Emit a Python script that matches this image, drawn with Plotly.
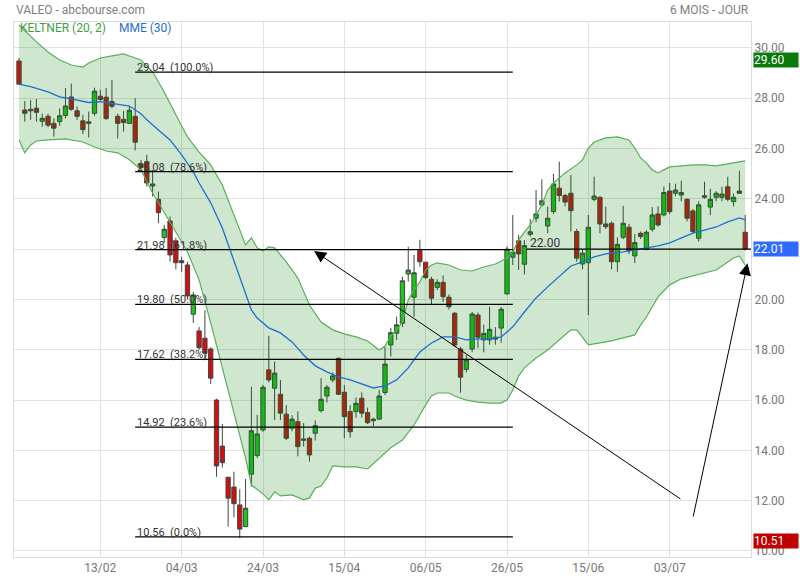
import plotly.graph_objects as go

# ---------------- data ----------------
tick_idx = [14, 28, 42, 56, 70, 84, 98, 112]
tick_labels = ["13/02", "04/03", "24/03", "15/04", "06/05", "26/05", "15/06", "03/07"]

opens = [29.48, 27.53, 27.56, 27.60, 27.08, 27.28, 27.00, 27.07, 27.31, 28.05,
         27.50, 27.10, 27.00, 27.40, 28.08, 28.04, 27.87, 27.28, 27.16, 27.00,
         27.28, 25.39, 25.48, 24.51, 23.98, 22.46, 23.12, 22.33, 21.54, 21.37,
         19.41, 18.75, 18.46, 18.03, 16.00, 14.17, 12.93, 12.54, 11.83, 10.97,
         13.05, 13.79, 14.81, 17.20, 16.47, 16.23, 15.44, 14.88, 15.14, 14.40,
         14.48, 14.68, 15.58, 16.16, 16.80, 17.66, 16.31, 15.54, 15.54, 16.07,
         15.50, 15.24, 15.24, 16.30, 18.19, 18.66, 19.05, 21.01, 20.09, 21.94,
         21.48, 20.80, 20.48, 20.68, 20.09, 19.45, 18.03, 17.22, 18.03, 19.38,
         18.39, 18.39, 18.42, 18.86, 20.22, 21.68, 22.33, 21.40, 22.59, 23.23,
         23.76, 22.92, 23.49, 24.42, 24.13, 24.22, 22.70, 21.41, 21.46, 23.98,
         24.06, 23.00, 23.03, 21.50, 22.47, 22.87, 21.73, 22.63, 22.00, 22.79,
         23.40, 23.36, 24.31, 24.22, 24.15, 23.98, 23.52, 22.43, 24.06, 23.67,
         24.06, 24.06, 24.48, 23.89, 24.31, 22.67]
highs = [29.60, 27.89, 27.93, 27.97, 27.38, 27.38, 27.20, 27.60, 28.40, 28.58,
         27.67, 27.34, 27.47, 28.42, 28.33, 28.40, 28.73, 27.38, 27.50, 27.67,
         28.00, 25.55, 25.75, 25.15, 24.29, 22.96, 23.30, 22.45, 21.70, 21.50,
         20.30, 18.90, 19.57, 18.10, 16.05, 15.05, 12.95, 13.15, 12.45, 12.86,
         16.53, 15.41, 16.60, 18.56, 17.53, 16.80, 15.80, 15.40, 15.55, 15.09,
         14.55, 15.19, 16.87, 16.60, 17.10, 17.69, 16.60, 15.80, 16.10, 16.30,
         15.70, 15.30, 16.40, 18.12, 18.87, 19.32, 20.90, 22.10, 21.77, 22.37,
         21.50, 20.90, 20.80, 20.95, 20.20, 19.50, 18.12, 17.80, 19.50, 19.48,
         19.00, 19.71, 18.90, 19.70, 22.10, 23.36, 22.57, 22.36, 23.19, 24.35,
         24.78, 23.69, 24.99, 25.48, 24.20, 24.95, 22.80, 22.00, 23.36, 24.88,
         24.10, 23.69, 23.10, 22.47, 23.72, 23.00, 22.60, 22.70, 22.75, 23.67,
         23.70, 24.49, 24.63, 24.60, 24.72, 24.02, 23.60, 23.90, 24.68, 24.40,
         24.30, 24.48, 24.88, 24.20, 25.12, 23.36]
lows = [28.55, 27.07, 27.14, 27.07, 26.87, 26.85, 26.47, 26.90, 27.19, 27.50,
        27.14, 26.57, 26.44, 27.30, 27.85, 27.14, 27.60, 26.40, 26.67, 26.98,
        25.92, 25.10, 24.49, 24.09, 23.03, 22.26, 21.50, 21.20, 21.10, 20.00,
        19.07, 18.00, 17.60, 16.64, 12.95, 13.31, 10.97, 11.34, 10.51, 10.95,
        12.56, 13.70, 14.74, 16.70, 15.21, 15.20, 14.41, 14.76, 13.76, 14.15,
        13.55, 14.39, 15.50, 15.90, 16.70, 16.20, 14.48, 14.50, 15.30, 15.30,
        15.05, 14.95, 15.24, 16.20, 17.73, 18.39, 18.90, 20.71, 19.32, 21.30,
        20.80, 19.78, 20.37, 19.90, 19.60, 18.10, 16.29, 17.10, 17.90, 18.07,
        17.90, 18.20, 18.20, 18.28, 20.20, 21.37, 21.17, 20.99, 22.50, 23.07,
        23.70, 22.63, 23.40, 23.89, 23.70, 22.70, 21.50, 21.20, 19.38, 23.90,
        22.63, 22.80, 21.20, 21.10, 22.40, 21.80, 21.45, 22.40, 21.95, 22.70,
        22.90, 23.30, 23.40, 24.10, 23.90, 23.10, 22.60, 22.30, 24.00, 23.35,
        23.90, 23.90, 23.90, 23.70, 24.20, 21.95]
closes = [28.56, 27.40, 27.50, 27.44, 27.20, 26.93, 26.81, 27.30, 27.69, 27.56,
          27.28, 26.75, 27.06, 28.28, 27.95, 27.19, 27.68, 27.00, 27.03, 27.52,
          26.25, 25.24, 24.63, 24.59, 23.45, 22.79, 21.77, 21.46, 21.46, 20.14,
          20.18, 18.08, 17.86, 16.87, 13.38, 13.51, 12.10, 11.88, 10.87, 11.70,
          14.78, 14.65, 16.51, 16.80, 17.07, 15.48, 14.48, 15.24, 14.15, 14.45,
          13.82, 14.98, 16.03, 16.51, 16.96, 16.23, 15.34, 14.74, 15.87, 15.48,
          15.10, 15.18, 16.16, 17.43, 18.68, 18.99, 20.74, 21.17, 21.06, 21.50,
          20.87, 20.05, 20.68, 20.11, 19.71, 18.19, 16.91, 17.60, 19.42, 18.50,
          18.65, 18.81, 18.50, 19.61, 22.00, 21.88, 21.81, 22.14, 22.69, 23.40,
          23.92, 23.23, 24.59, 24.13, 23.87, 23.53, 21.64, 21.84, 22.87, 24.11,
          23.00, 22.89, 21.50, 22.19, 23.03, 21.93, 22.26, 22.50, 22.67, 23.36,
          22.96, 24.25, 23.49, 24.35, 24.25, 23.23, 22.70, 23.76, 24.12, 23.98,
          24.22, 24.19, 23.98, 24.06, 24.22, 22.01]

# Keltner (20, 2) upper / lower edges and MME (30), read at candle indices
upper_idx = [0, 2, 3, 5, 7, 9, 11, 12, 14, 16, 18, 19, 21, 23, 25, 27, 29, 31, 33, 35,
             37, 39, 40, 41, 42, 43, 44, 46, 48, 50, 52, 54, 56, 58, 60, 62, 63, 64, 65,
             66, 67, 68, 69, 70, 71, 72, 74, 76, 78, 80, 82, 84, 85, 86, 87, 88, 90, 91,
             92, 94, 96, 97, 98, 99, 101, 103, 105, 106, 107, 108, 109, 110, 111, 112,
             114, 116, 118, 120, 122, 124, 125]
upper_val = [30.91, 30.44, 30.24, 29.84, 29.52, 29.32, 29.24, 29.40, 29.60, 29.68, 29.76,
             29.68, 29.52, 29.05, 28.25, 27.34, 26.46, 25.86, 25.35, 24.55, 23.36, 22.17,
             22.45, 22.05, 21.93, 22.09, 22.05, 21.49, 20.85, 19.78, 19.10, 18.79, 18.63,
             18.51, 18.35, 17.99, 18.15, 18.55, 18.79, 19.10, 19.98, 20.38, 20.70, 21.17,
             21.37, 21.45, 21.37, 21.17, 21.13, 21.29, 21.41, 21.65, 21.89, 22.37, 22.68,
             22.96, 23.76, 24.35, 24.63, 25.03, 25.35, 25.55, 26.02, 26.26, 26.42, 26.46,
             26.34, 26.02, 25.63, 25.43, 25.15, 25.03, 25.15, 25.27, 25.31, 25.35, 25.35,
             25.31, 25.39, 25.47, 25.51]
lower_idx = [0, 1, 2, 3, 5, 8, 11, 13, 15, 17, 19, 21, 23, 25, 27, 29, 31, 33, 35, 36,
             37, 38, 39, 40, 41, 42, 43, 44, 45, 47, 49, 50, 51, 52, 53, 54, 56, 58, 60,
             61, 62, 64, 66, 68, 70, 71, 72, 74, 75, 77, 79, 81, 83, 84, 85, 86, 87, 89,
             91, 93, 95, 96, 97, 98, 100, 102, 104, 106, 107, 108, 110, 112, 114, 116,
             118, 120, 122, 123, 124, 125]
lower_val = [26.34, 25.83, 26.14, 26.30, 26.34, 26.38, 26.26, 26.06, 25.90, 25.83, 25.55,
             25.15, 24.23, 23.48, 22.68, 21.89, 20.78, 19.07, 17.28, 16.32, 15.53, 14.61,
             13.70, 12.62, 12.43, 12.27, 12.03, 12.35, 12.19, 12.23, 12.03, 12.11, 12.50,
             12.58, 12.90, 13.38, 13.34, 13.34, 13.26, 13.46, 13.70, 14.10, 14.41, 15.01,
             15.81, 16.16, 16.28, 16.28, 16.16, 16.00, 15.92, 15.88, 15.88, 16.00, 16.40,
             16.96, 17.28, 17.67, 17.99, 18.39, 18.79, 18.79, 18.51, 18.19, 18.27, 18.35,
             18.47, 18.59, 18.99, 19.30, 20.10, 20.58, 20.82, 20.93, 21.05, 21.17, 21.49,
             21.65, 21.73, 21.37]
mme_idx = [0, 2, 5, 7, 9, 12, 14, 17, 19, 21, 22, 24, 26, 28, 30, 31, 33, 35, 36, 37,
           38, 39, 40, 41, 43, 45, 47, 49, 51, 53, 55, 57, 59, 61, 63, 65, 67, 69, 71,
           73, 75, 77, 79, 81, 83, 85, 87, 89, 91, 93, 95, 97, 99, 101, 104, 107, 110,
           112, 114, 116, 118, 120, 122, 124, 125]
mme_val = [28.56, 28.46, 28.25, 28.05, 27.97, 27.83, 27.86, 27.77, 27.69, 27.38, 27.14,
           26.74, 26.34, 25.75, 25.07, 24.63, 23.84, 22.84, 22.17, 21.57, 20.89, 20.18,
           19.58, 19.26, 18.87, 18.67, 18.31, 17.79, 17.36, 17.12, 16.92, 16.80, 16.64,
           16.48, 16.56, 16.80, 17.28, 17.91, 18.27, 18.51, 18.51, 18.39, 18.43, 18.43,
           18.51, 18.91, 19.50, 20.06, 20.50, 20.93, 21.33, 21.49, 21.69, 21.81, 21.89,
           22.01, 22.13, 22.25, 22.45, 22.64, 22.76, 22.88, 23.08, 23.24, 23.16]

# Fibonacci retracement levels
fib_levels = [29.04, 25.08, 21.98, 19.80, 17.62, 14.92, 10.56]
fib_pcts = ["100.0%", "78.6%", "61.8%", "50.0%", "38.2%", "23.6%", "0.0%"]
fib_start, fib_end = 20, 85

# horizontal line 22.00
hline_val = 22.00
hline_start = 87.4

# arrows: (tail index, tail value, tip index, tip value)
arrows = [(114.1, 12.03, 50.8, 21.93), (116.0, 11.31, 125.4, 21.44)]

# right-hand value boxes: (value, colour, vertical shift px)
value_boxes = [(29.60, "#0a7a0a", -2), (22.01, "#2f6bff", 0), (10.51, "#c00000", -3)]

# ---------------- figure ----------------
x = list(range(len(opens)))
FONT = "Roboto, 'Open Sans', sans-serif"
fig = go.Figure()

fig.add_trace(go.Scatter(
    x=upper_idx + lower_idx[::-1], y=upper_val + lower_val[::-1],
    fill="toself", fillcolor="rgba(0,128,0,0.19)", line=dict(width=0),
    mode="lines", hoverinfo="skip", showlegend=False))
for bx, by in ((upper_idx, upper_val), (lower_idx, lower_val)):
    fig.add_trace(go.Scatter(x=bx, y=by, mode="lines",
                             line=dict(color="#5aae5a", width=1.2),
                             hoverinfo="skip", showlegend=False))
fig.add_trace(go.Scatter(x=mme_idx, y=mme_val, mode="lines",
                         line=dict(color="#1f6fd0", width=1.3),
                         hoverinfo="skip", showlegend=False))

fig.add_trace(go.Candlestick(
    x=x, open=opens, high=highs, low=lows, close=closes,
    increasing=dict(fillcolor="#19c819", line=dict(color="#444444", width=1)),
    decreasing=dict(fillcolor="#d01010", line=dict(color="#444444", width=1)),
    whiskerwidth=0, showlegend=False, hoverinfo="skip"))

shapes = []
annotations = []
for lv, pc in zip(fib_levels, fib_pcts):
    shapes.append(dict(type="line", xref="x", yref="y", x0=fib_start, x1=fib_end,
                       y0=lv, y1=lv, line=dict(color="black", width=1.2)))
    annotations.append(dict(xref="x", yref="y", x=fib_start, y=lv,
                            text=f"{lv:.2f}  ({pc})", showarrow=False,
                            xanchor="left", yanchor="bottom", yshift=-4,
                            font=dict(family=FONT, size=11, color="#333")))
shapes.append(dict(type="line", xref="x", yref="y", x0=hline_start, x1=126.0,
                   y0=hline_val, y1=hline_val, line=dict(color="black", width=1.2)))
annotations.append(dict(xref="x", yref="y", x=hline_start + 0.3, y=hline_val,
                        text=f"{hline_val:.2f}", showarrow=False,
                        xanchor="left", yanchor="bottom", yshift=-3,
                        font=dict(family=FONT, size=12, color="#333")))

for tx, tyv, hx, hy in arrows:
    annotations.append(dict(xref="x", yref="y", axref="x", ayref="y",
                            x=hx, y=hy, ax=tx, ay=tyv, text="", showarrow=True,
                            arrowhead=2, arrowsize=2.4, arrowwidth=1,
                            arrowcolor="black"))

for val, col, ys in value_boxes:
    annotations.append(dict(xref="paper", yref="y", x=1, y=val, xanchor="left",
                            xshift=2, yshift=ys, text=f"{val:.2f}", showarrow=False,
                            bgcolor=col, width=44, align="left", borderpad=0,
                            font=dict(family=FONT, size=12, color="white")))

annotations += [
    dict(xref="paper", yref="paper", x=0, y=1, yshift=12, xanchor="left",
         yanchor="middle", text="VALEO - abcbourse.com", showarrow=False,
         font=dict(family=FONT, size=12, color="#808080")),
    dict(xref="paper", yref="paper", x=1, y=1, yshift=12, xanchor="right",
         yanchor="middle", text="6 MOIS - JOUR", showarrow=False,
         font=dict(family=FONT, size=12, color="#808080")),
    dict(xref="paper", yref="paper", x=0, y=1, xshift=4, yshift=-6, xanchor="left",
         yanchor="middle", text="KELTNER (20, 2)", showarrow=False,
         font=dict(family=FONT, size=12, color="#3f9f3f")),
    dict(xref="paper", yref="paper", x=0, y=1, xshift=103, yshift=-6, xanchor="left",
         yanchor="middle", text="MME (30)", showarrow=False,
         font=dict(family=FONT, size=12, color="#1f6fd0")),
]

fig.update_layout(
    width=800, height=580, margin=dict(l=14, r=49, t=22, b=23),
    paper_bgcolor="white", plot_bgcolor="white",
    font=dict(family=FONT, size=12, color="#666"),
    shapes=shapes, annotations=annotations, showlegend=False,
    boxgap=0.26, boxgroupgap=0,
    xaxis=dict(range=[-0.86, 126.0], tickvals=tick_idx, ticktext=tick_labels,
               showgrid=True, gridcolor="#e2e2e2", zeroline=False,
               showline=True, linecolor="#dcdcdc", mirror=True, ticks="",
               rangeslider=dict(visible=False), fixedrange=True, automargin=False,
               tickfont=dict(family=FONT, size=12, color="#777")),
    yaxis=dict(range=[9.76, 31.03], side="right", dtick=2, tick0=10,
               tickformat=".2f", showgrid=True, gridcolor="#e2e2e2", automargin=False,
               zeroline=False, showline=True, linecolor="#dcdcdc", mirror=True,
               ticks="", tickfont=dict(family=FONT, size=12, color="#777")),
)

# remove the default 8px page margin so the 800x580 figure fills the window
fig.write_html("out.html", config={"displayModeBar": False},
               post_script="document.body.style.margin='0';document.body.style.overflow='hidden';")
